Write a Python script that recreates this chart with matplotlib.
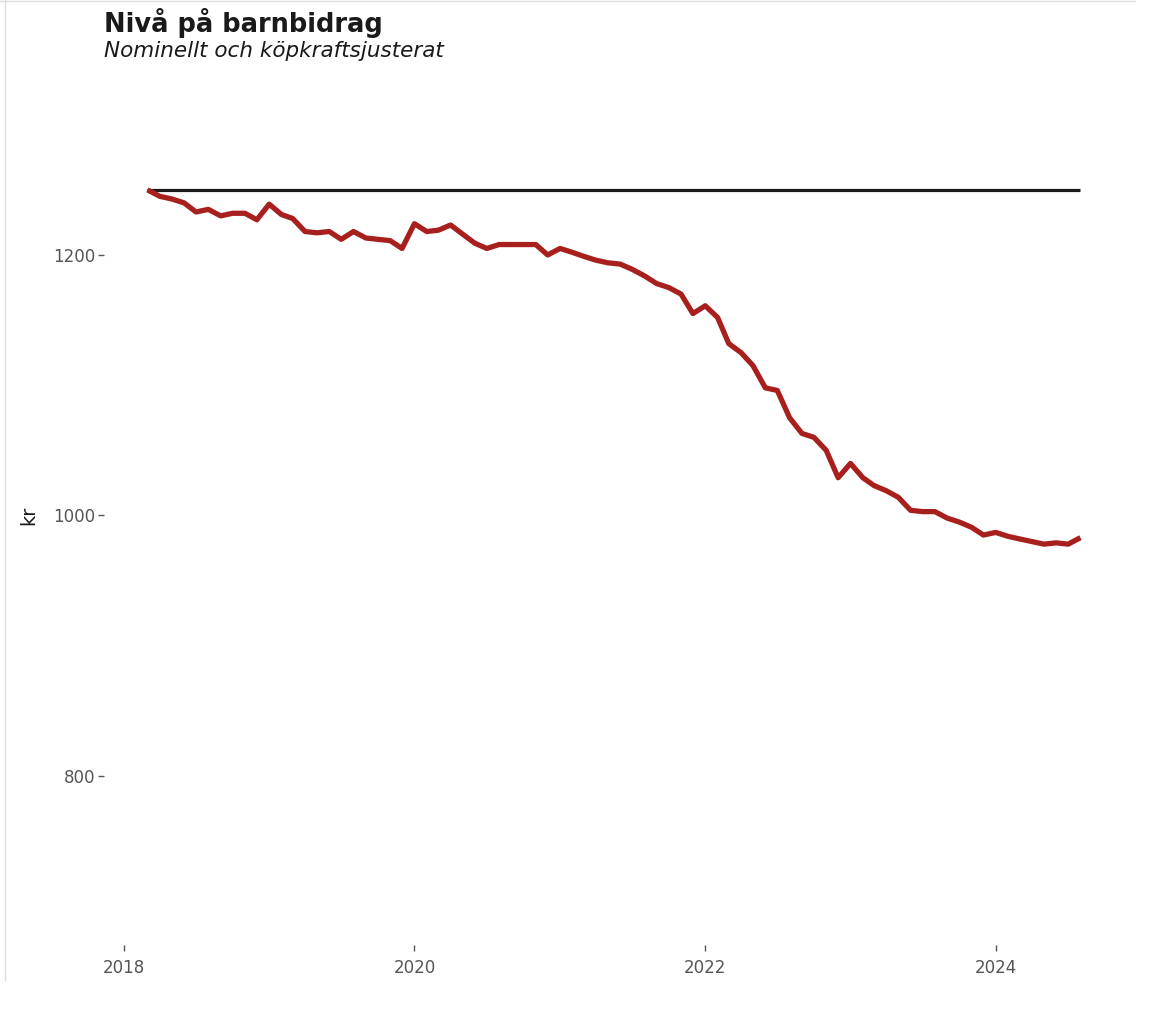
import numpy as np
import pandas as pd
import matplotlib
matplotlib.use("Agg")
import matplotlib.pyplot as plt
import matplotlib.dates as mdates
from matplotlib.lines import Line2D

# data, monthly 2018-03 .. 2024-08
months = pd.date_range("2018-03-01", "2024-08-01", freq="MS")
nominellt = [1250] * len(months)
kopkraft = [1250, 1245, 1243, 1240, 1233, 1235, 1230, 1232, 1232, 1227,
            1239, 1231, 1228, 1218, 1217, 1218, 1212, 1218, 1213, 1212,
            1211, 1205, 1224, 1218, 1219, 1223, 1216, 1209, 1205, 1208,
            1208, 1208, 1208, 1200, 1205, 1202, 1199, 1196, 1194, 1193,
            1189, 1184, 1178, 1175, 1170, 1155, 1161, 1152, 1132, 1125,
            1115, 1098, 1096, 1075, 1063, 1060, 1050, 1029, 1040, 1029,
            1023, 1019, 1014, 1004, 1003, 1003, 998, 995, 991, 985,
            987, 984, 982, 980, 978, 979, 978, 983]

title = "Nivå på barnbidrag"
subtitle = "Nominellt och köpkraftsjusterat"
yticks = [800, 1000, 1200]
xticks = ["2018", "2020", "2022", "2024"]

plt.rcParams['font.family'] = ['DejaVu Sans']

W, H = 1170, 1017
fig = plt.figure(figsize=(W/100, H/100), dpi=100)
ax = fig.add_axes([104/W, 1-945/H, (1130-104)/W, (945-154)/H])

ax.plot(months, nominellt, color="#1a1a1a", lw=2.3, solid_capstyle="butt")
ax.plot(months, kopkraft, color="#a8201e", lw=3.8, solid_joinstyle="round",
        solid_capstyle="butt")

def yr(y):
    return pd.Timestamp(int(y), 1, 1) + pd.Timedelta(days=(y % 1) * 365.25)

ax.set_xlim(yr(2017.862), yr(2024.924))
ax.set_ylim(670.3, 1277.5)
ax.set_yticks(yticks)
ax.set_xticks([pd.Timestamp(int(t), 1, 1) for t in xticks])
ax.xaxis.set_major_formatter(mdates.DateFormatter("%Y"))

for s in ax.spines.values():
    s.set_visible(False)
ax.tick_params(length=4, width=1, color="#555555", labelcolor="#555555",
               labelsize=12, pad=2)
ax.tick_params(axis="x", pad=6)
ax.set_ylabel("kr", fontsize=14, color="#1a1a1a")
ax.yaxis.set_label_coords(-66/1026, (945-515)/791)

fig.text(104/W, 1-32/H, title, fontsize=18.5, fontweight="bold", color="#1a1a1a")
fig.text(104/W, 1-57/H, subtitle, fontsize=15.5, style="italic", color="#1a1a1a")

# faint screenshot border
fig.add_artist(Line2D([5/W, 5/W], [1-980/H, 1], color="#dddddd", lw=1))
fig.add_artist(Line2D([0, 1135/W], [1-1/H, 1-1/H], color="#dddddd", lw=1))

fig.savefig("out.png", dpi=100, facecolor="white")
